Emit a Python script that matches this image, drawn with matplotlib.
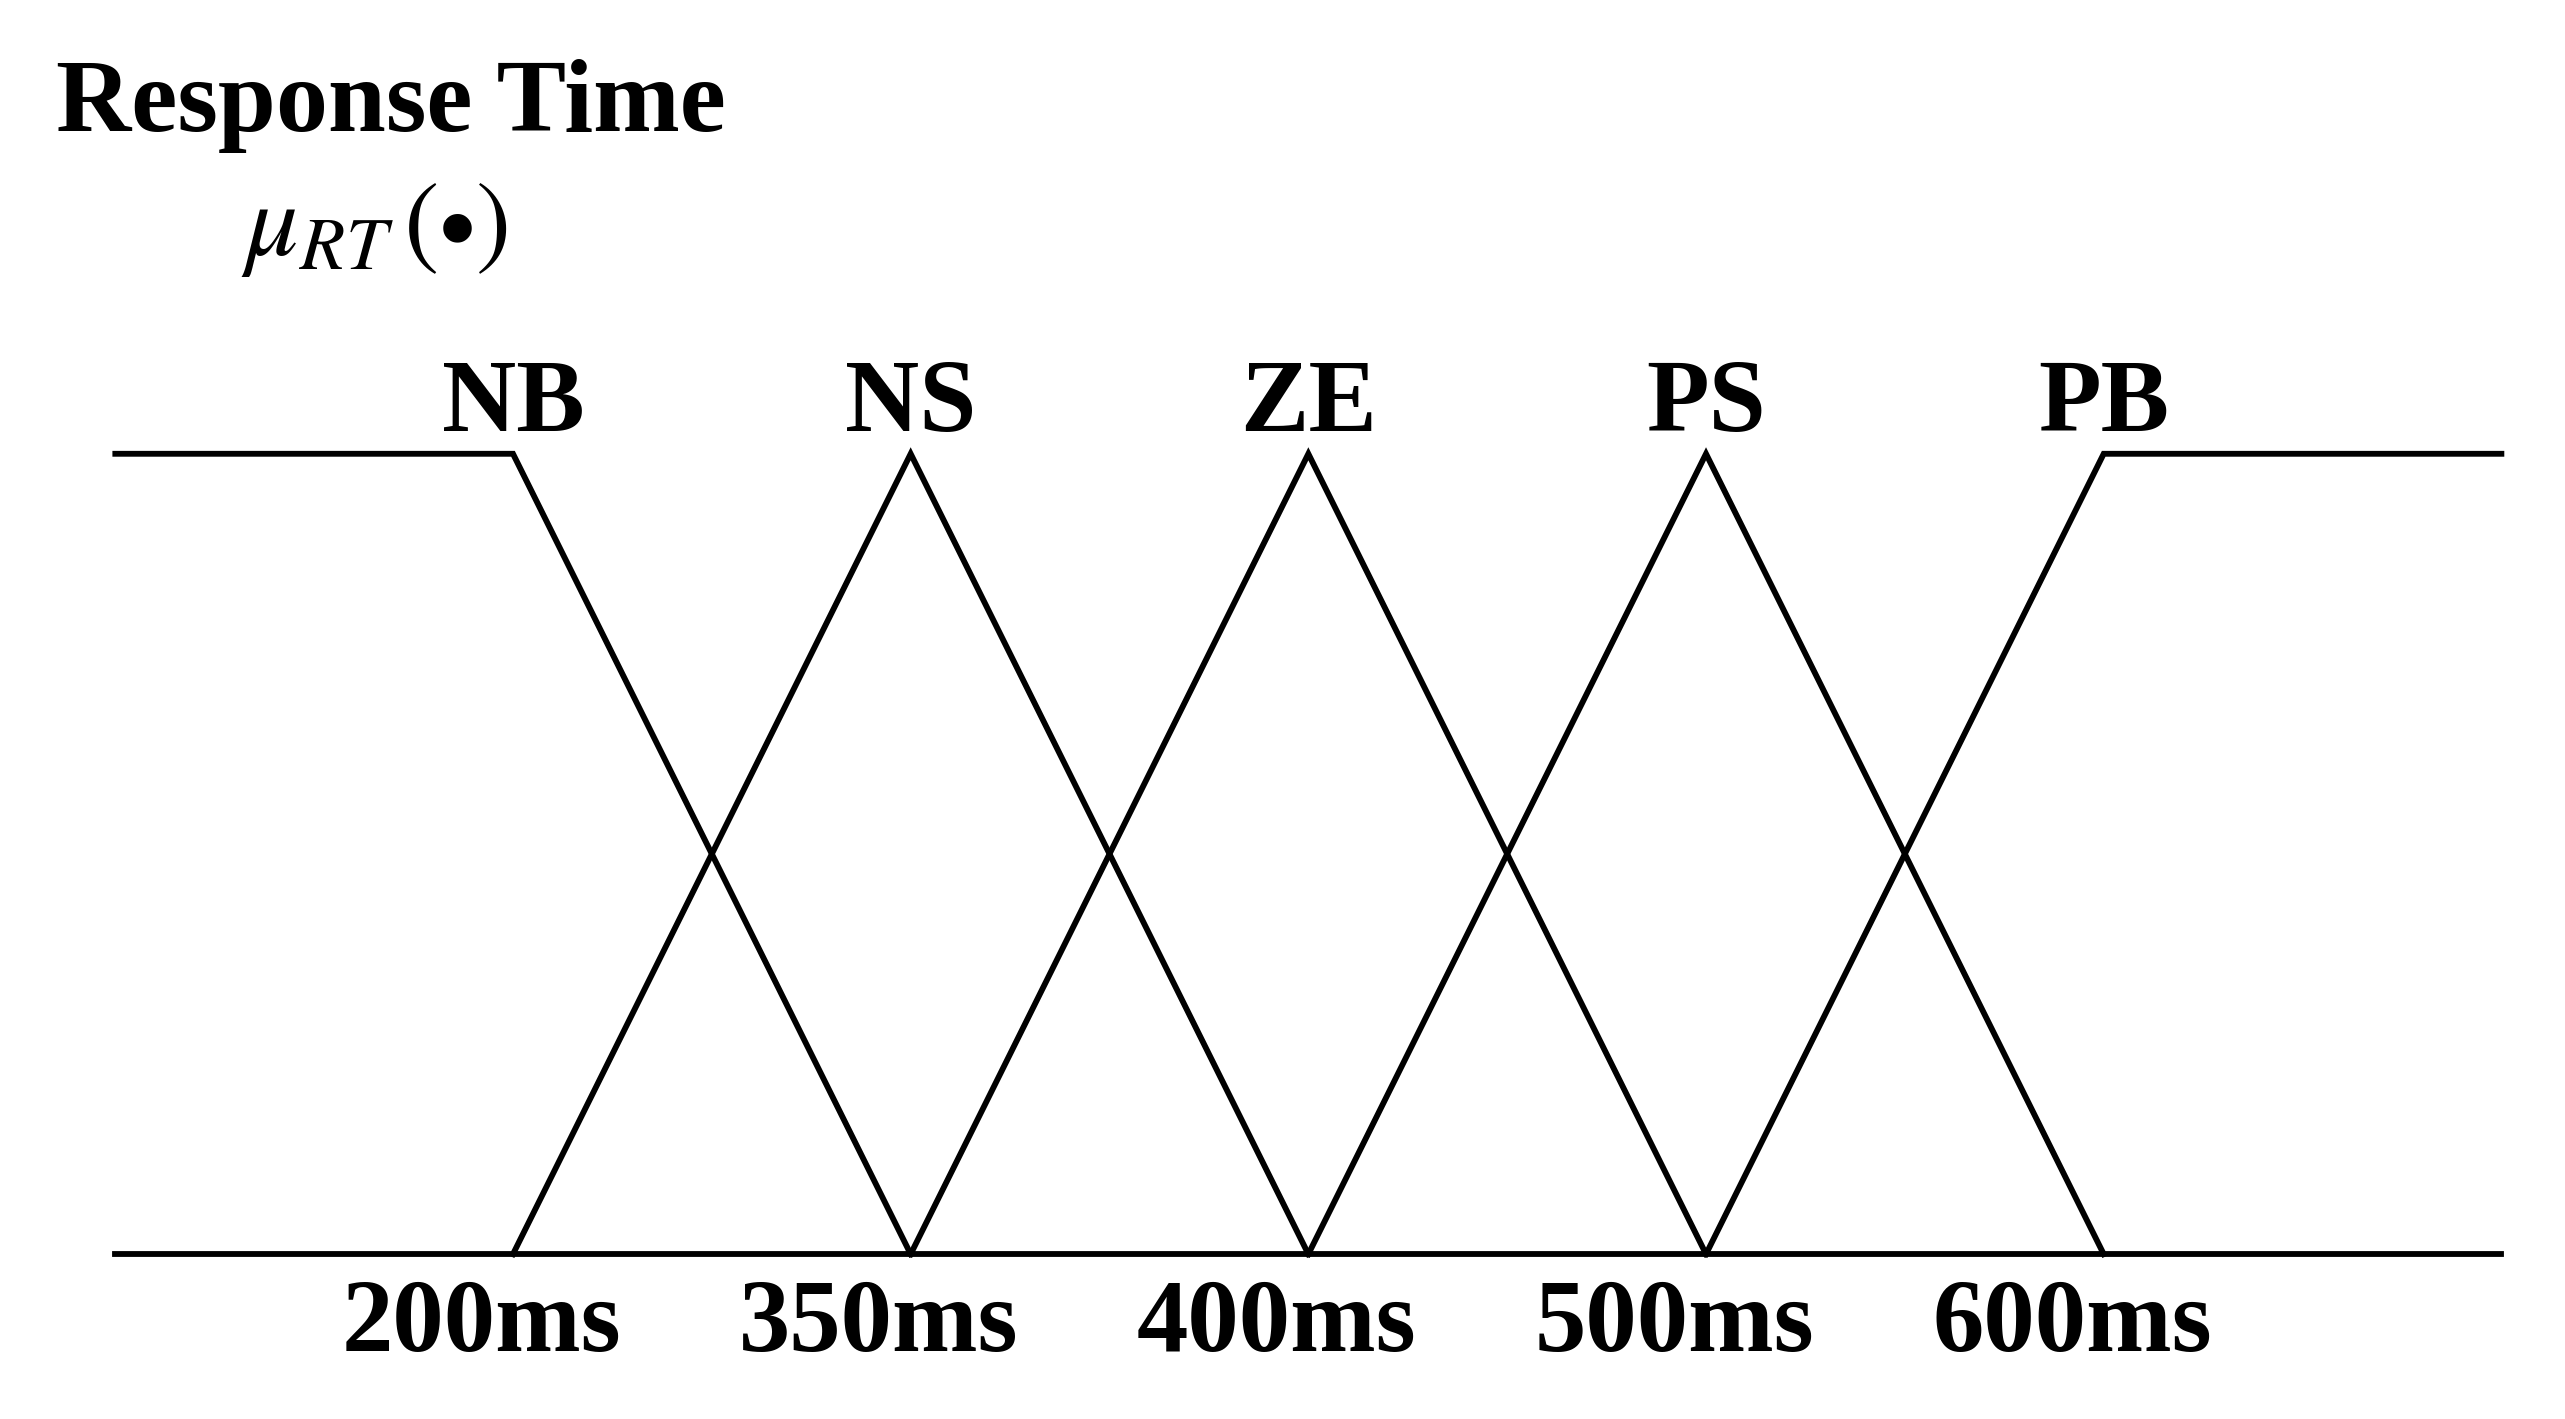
import matplotlib.pyplot as plt

# membership function set names and breakpoint labels (evenly spaced)
sets = ['NB', 'NS', 'ZE', 'PS', 'PB']
ticks = ['200ms', '350ms', '400ms', '500ms', '600ms']
left_end = -1.0
right_end = 5.0

plt.rcParams['font.family'] = ['Liberation Serif', 'DejaVu Serif']
plt.rcParams['mathtext.fontset'] = 'stix'

fig = plt.figure(figsize=(25.65, 14.19), dpi=100)
ax = fig.add_axes([0, 0, 1, 1])
ax.set_xlim(-1.29, 5.16)
ax.set_ylim(-0.206, 1.567)
ax.axis('off')

lw = 4.2
n = len(sets)
# baseline
ax.plot([left_end, right_end], [0, 0], color='black', lw=lw)
for i in range(n):
    if i == 0:
        xs, ys = [left_end, 0, 1], [1, 1, 0]
    elif i == n - 1:
        xs, ys = [i - 1, i, right_end], [0, 1, 1]
    else:
        xs, ys = [i - 1, i, i + 1], [0, 1, 0]
    ax.plot(xs, ys, color='black', lw=lw, solid_joinstyle='miter')
    ax.text(i, 1.06, sets[i], ha='center', va='center', fontsize=74, fontweight='bold')
    ax.text(i - 0.08, -0.09, ticks[i], ha='center', va='center', fontsize=74, fontweight='bold')

fig.text(0.022, 0.925, 'Response Time', ha='left', va='center', fontsize=75, fontweight='bold')
fig.text(0.094, 0.838, r'$\mu_{RT}\,(\bullet)$', ha='left', va='center', fontsize=76)

fig.savefig('out.png', dpi=100, facecolor='white')
